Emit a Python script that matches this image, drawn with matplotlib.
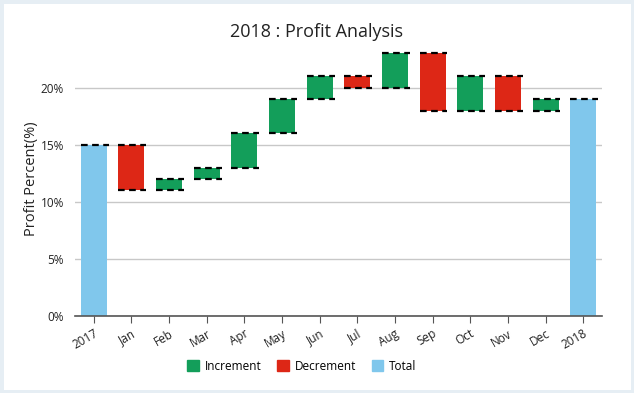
import matplotlib
matplotlib.use('Agg')
import matplotlib.pyplot as plt
from matplotlib.patches import Patch, Rectangle

labels = ['2017', 'Jan', 'Feb', 'Mar', 'Apr', 'May', 'Jun', 'Jul', 'Aug',
          'Sep', 'Oct', 'Nov', 'Dec', '2018']
# change per month; first and last entries are totals
start_total = 15
changes = [-4, 1, 1, 3, 3, 2, -1, 3, -5, 3, -3, 1]
end_total = 19

GREEN = '#139E5A'
RED = '#DD2716'
BLUE = '#80C7EC'

plt.rcParams['font.family'] = ['Open Sans', 'DejaVu Sans']

fig = plt.figure(figsize=(6.34, 3.93), dpi=100)
fig.patch.set_facecolor('white')
# light frame around the chart
fig.add_artist(Rectangle((0, 0), 1, 1, transform=fig.transFigure, fill=False,
                         edgecolor='#E6EEF4', linewidth=5))
ax = fig.add_axes([75/634, 77/393, 527/634, 274/393])

bottoms, heights, colors = [0], [start_total], [BLUE]
level = start_total
for c in changes:
    lo = min(level, level + c)
    bottoms.append(lo)
    heights.append(abs(c))
    colors.append(GREEN if c > 0 else RED)
    level += c
bottoms.append(0)
heights.append(end_total)
colors.append(BLUE)

xs = list(range(len(labels)))
w = 0.69
ax.bar(xs, heights, bottom=bottoms, width=w, color=colors, zorder=2)

for x, b, h in zip(xs, bottoms, heights):
    for yv in (b, b + h):
        if yv == 0:
            continue
        ax.plot([x - w/2, x + w/2 + 0.05], [yv, yv], color='black',
                linestyle=(0, (3, 2)), linewidth=1.6, zorder=3)

ax.set_xlim(-0.5, 13.5)
ax.set_ylim(0, 24)
ax.set_yticks([0, 5, 10, 15, 20])
ax.set_yticklabels([f'{v}%' for v in [0, 5, 10, 15, 20]], fontsize=8.5, color='#222222')
ax.tick_params(axis='y', length=0, pad=8)
ax.set_xticks(xs)
ax.set_xticklabels(labels, rotation=30, ha='right', rotation_mode='anchor',
                   fontsize=8.5, color='#222222')
ax.tick_params(axis='x', length=5, color='#555555', pad=3)
ax.grid(axis='y', color='#C8C8C8', linewidth=1, zorder=0)
ax.set_axisbelow(True)
for s in ['top', 'right', 'left']:
    ax.spines[s].set_visible(False)
ax.spines['bottom'].set_color('#555555')
ax.spines['bottom'].set_linewidth(1.2)

ax.set_ylabel('Profit Percent(%)', fontsize=10.5, color='#222222', labelpad=1)
fig.text(0.5, 1 - 32/393, '2018 : Profit Analysis', ha='center', va='center',
         fontsize=13, color='#222222')

handles = [Patch(color=GREEN, label='Increment'),
           Patch(color=RED, label='Decrement'),
           Patch(color=BLUE, label='Total')]
fig.legend(handles=handles, loc='center', bbox_to_anchor=(302/634, 1 - 366/393),
           ncol=3, frameon=False, fontsize=8.5, handlelength=1, handleheight=1,
           handletextpad=0.5, columnspacing=1.3)

fig.savefig('out.png', dpi=100, facecolor='white')
